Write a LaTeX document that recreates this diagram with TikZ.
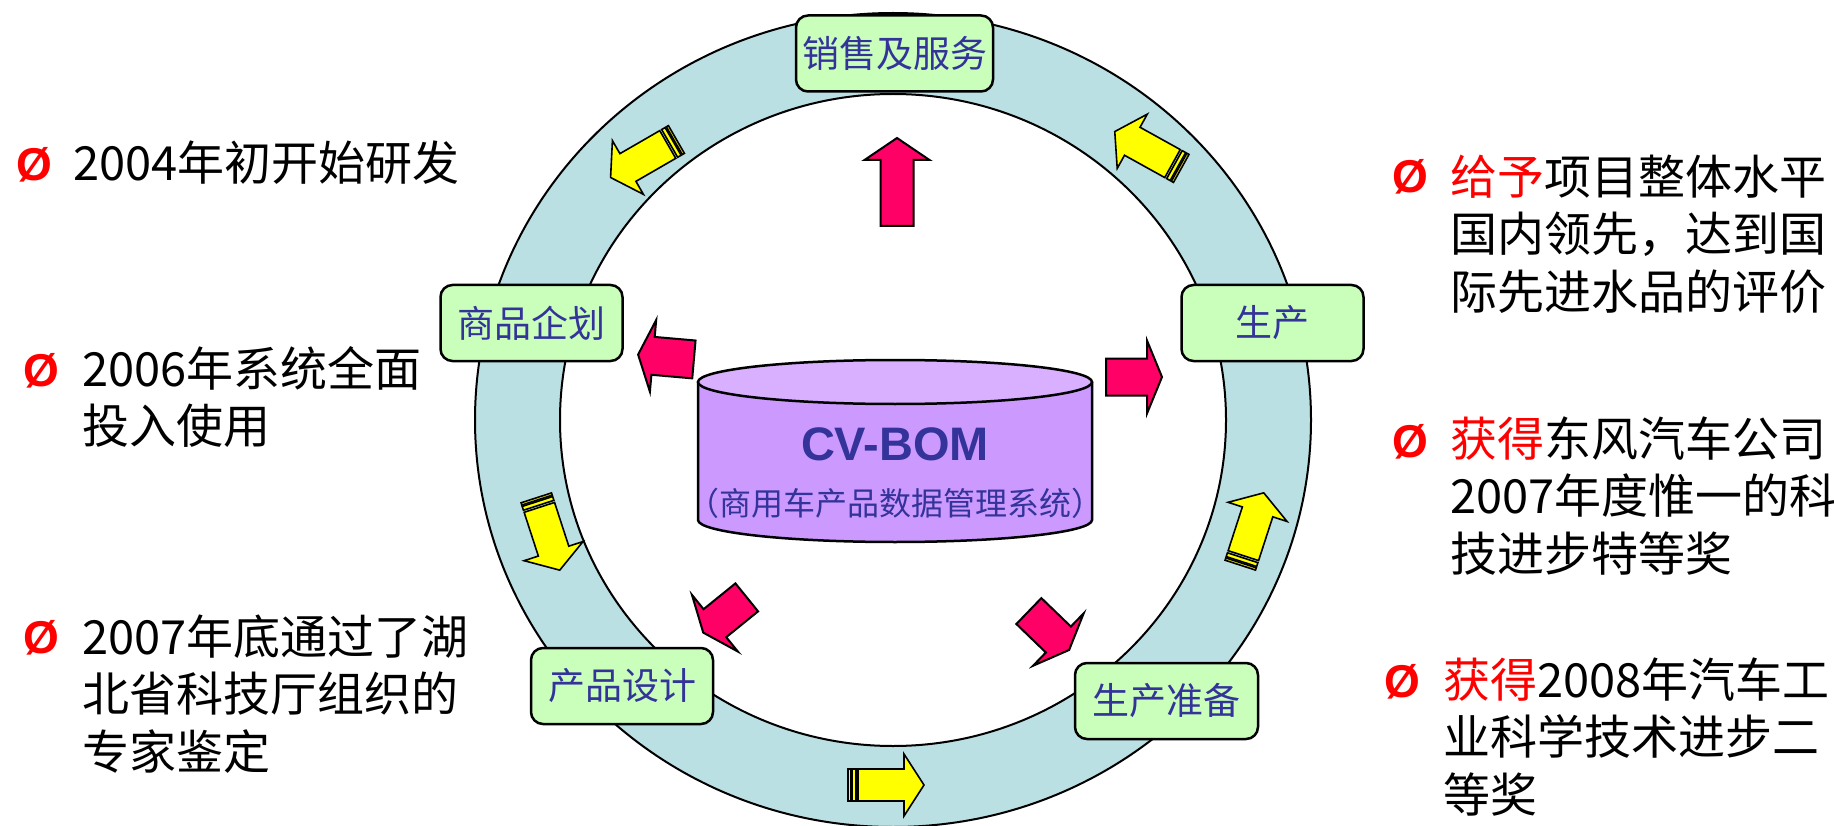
\documentclass[tikz,border=0pt]{standalone}
\usepackage{fontspec}
\setmainfont{Liberation Sans}
\newfontfamily\cjk{Noto Sans CJK SC}
\definecolor{ringfill}{RGB}{187,224,227}
\definecolor{boxfill}{RGB}{202,255,187}
\definecolor{boxtext}{RGB}{51,51,153}
\definecolor{cylbody}{RGB}{204,153,255}
\definecolor{cyltop}{RGB}{216,176,255}
\definecolor{pinkfill}{RGB}{255,0,102}
\definecolor{yellowfill}{RGB}{255,255,0}
\tikzset{
  stage/.style={draw=black, line width=2.5pt, rounded corners=12pt, fill=boxfill,
    text=boxtext, font=\cjk\fontsize{37}{40}\selectfont, minimum height=76pt,
    minimum width=182pt, inner sep=0pt},
  arrowline/.style={draw=black, line width=2pt, line join=miter},
  bullet/.style={text=red, font=\fontsize{46}{57.5}\selectfont\bfseries,
    anchor=base west, inner sep=0pt},
  item/.style={font=\cjk\fontsize{47}{57.5}\selectfont, anchor=base west,
    align=left, inner sep=0pt, text=black},
  pics/pinkarrow/.style args={#1/#2/#3/#4}{code={
    \draw[arrowline, fill=pinkfill] (-#1/2,-#2/2) -- (#1/2-#4,-#2/2) -- (#1/2-#4,-#3/2)
      -- (#1/2,0) -- (#1/2-#4,#3/2) -- (#1/2-#4,#2/2) -- (-#1/2,#2/2) -- cycle;}},
  pics/yellowarrow/.style args={#1/#2/#3/#4}{code={
    \draw[arrowline, line width=1.6pt, fill=yellowfill] (-#1/2,-#2/2) rectangle (-#1/2+2.4,#2/2);
    \draw[arrowline, line width=1.6pt, fill=yellowfill] (-#1/2+3.8,-#2/2) rectangle (-#1/2+7.8,#2/2);
    \draw[arrowline, line width=1.6pt, fill=yellowfill] (-#1/2+10,-#2/2) -- (#1/2-#4,-#2/2) -- (#1/2-#4,-#3/2)
      -- (#1/2,0) -- (#1/2-#4,#3/2) -- (#1/2-#4,#2/2) -- (-#1/2+10,#2/2) -- cycle;}}
}
\begin{document}
\begin{tikzpicture}[x=1pt,y=-1pt]
\useasboundingbox (0,0) rectangle (1834,826);
% ring
\coordinate (rc) at (893,420);
\fill[ringfill, even odd rule] (rc) ellipse [x radius=418pt, y radius=407pt]
  (rc) ellipse [x radius=333pt, y radius=326pt];
\draw[line width=2pt] (rc) ellipse [x radius=418pt, y radius=407pt];
\draw[line width=2pt] (rc) ellipse [x radius=333pt, y radius=326pt];
% yellow cycle arrows
\pic (y1) [rotate=210] at (643.5,158.5) {yellowarrow=76/32/62/20};
\pic (y2) [rotate=151] at (1148,150) {yellowarrow=76/32/62/20};
\pic (y3) [rotate=-72] at (548,534) {yellowarrow=76/32/62/20};
\pic (y4) [rotate=72] at (1252,529) {yellowarrow=76/32/62/20};
\pic (y5) at (886,785) {yellowarrow=76/32/62/20};
% stage boxes
\node[stage, minimum width=197pt] (sales) at (894.5,53.5) {销售及服务};
\node[stage] (plan) at (531.5,323) {商品企划};
\node[stage] (prod) at (1272.5,323) {生产};
\node[stage] (design) at (622,686) {产品设计};
\node[stage, minimum width=183pt] (prep) at (1166.5,701) {生产准备};
% pink arrows
\pic (p1) [rotate=90] at (897,182) {pinkarrow=88/33/65/22};
\pic (p2) [rotate=175] at (666,357) {pinkarrow=56/38/72/15};
\pic (p3) at (1134,377) {pinkarrow=56/37/73/15};
\pic (p4) [rotate=219] at (725,615) {pinkarrow=56/36/73/15};
\pic (p5) [rotate=-44] at (1049,630.5) {pinkarrow=56/36/73/15};
% cylinder
\fill[cylbody] (698,382) -- (698,520) arc[start angle=180, end angle=360, x radius=197pt, y radius=22pt] -- (1092,382) -- cycle;
\draw[line width=2.5pt] (698,382) -- (698,520) arc[start angle=180, end angle=360, x radius=197pt, y radius=22pt] -- (1092,382);
\draw[line width=2.5pt, fill=cyltop] (895,382) ellipse [x radius=197pt, y radius=22pt];
\node[text=boxtext, font=\fontsize{47}{50}\selectfont\bfseries, inner sep=0pt] (cvbom) at (895,444.5) {CV-BOM};
\node[text=boxtext, font=\cjk\fontsize{32}{36}\selectfont, inner sep=0pt] (cvsub) at (895,503) {（商用车产品数据管理系统）};
% left notes (multi-line nodes are placed by the baseline of their last line)
\node[bullet] (b1) at (16,181) {Ø};
\node[item] (t1) at (73,181) {2004年初开始研发};
\node[bullet] (b2) at (23,386) {Ø};
\node[item] (t2) at (82,443.5) {2006年系统全面\\投入使用};
\node[bullet] (b3) at (23,653) {Ø};
\node[item] (t3) at (82,769) {2007年底通过了湖\\北省科技厅组织的\\专家鉴定};
% right notes
\node[bullet] (b4) at (1392,193) {Ø};
\node[item] (t4) at (1450,309) {{\color{red}给予}项目整体水平\\国内领先，达到国\\际先进水品的评价};
\node[bullet] (b5) at (1392,457) {Ø};
\node[item] (t5) at (1450,571) {{\color{red}获得}东风汽车公司\\2007年度惟一的科\\技进步特等奖};
\node[bullet] (b6) at (1384,697) {Ø};
\node[item] (t6) at (1443,812) {{\color{red}获得}2008年汽车工\\业科学技术进步二\\等奖};
\end{tikzpicture}
\end{document}
